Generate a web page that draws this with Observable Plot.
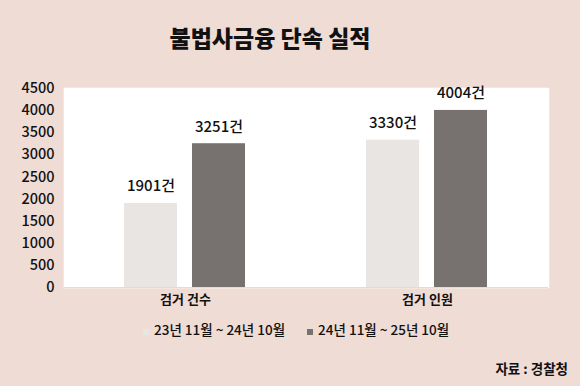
<!DOCTYPE html>
<html><head><meta charset="utf-8">
<script src="https://cdn.jsdelivr.net/npm/d3@7"></script>
<script src="https://cdn.jsdelivr.net/npm/@observablehq/plot@0.6"></script>
<style>
body{margin:0;background:#efdcd5;font-family:"Noto Sans CJK KR","Noto Sans",sans-serif;}
#wrap{position:relative;width:580px;height:386px;overflow:hidden;background:#efdcd5;color:#111}
#title{position:absolute;top:20px;left:0;width:540px;text-align:center;font-size:23px;font-weight:900;letter-spacing:0px}
#chart{position:absolute;top:70px;left:0}
#legend{position:absolute;top:319px;left:143px;font-size:13.5px;font-weight:500;display:flex;align-items:center;white-space:nowrap}
.sw{display:inline-block;width:6px;height:6px;margin-right:5px}
#source{position:absolute;top:358px;right:12px;font-size:13.5px;font-weight:700}
</style></head>
<body><div id="wrap">
<div id="title">불법사금융 단속 실적</div>
<div id="chart"></div>
<div id="legend"></div>
<div id="source">자료 : 경찰청</div>
</div>
<script>
const categories = ["검거 건수", "검거 인원"];
const periods = ["23년 11월 ~ 24년 10월", "24년 11월 ~ 25년 10월"];
const valuesPrev = [1901, 3330];
const valuesCurr = [3251, 4004];
const yTicks = [0, 500, 1000, 1500, 2000, 2500, 3000, 3500, 4000, 4500];
const colors = ["#e9e5e2", "#77716f"];

const data = [];
categories.forEach((c, i) => {
  data.push({category: c, period: periods[0], value: valuesPrev[i]});
  data.push({category: c, period: periods[1], value: valuesCurr[i]});
});

const chart = Plot.plot({
  width: 580,
  height: 245,
  marginTop: 18,
  marginBottom: 28,
  marginLeft: 63,
  marginRight: 32,
  style: {fontFamily: '"Noto Sans CJK KR", sans-serif', color: "#111", background: "transparent"},
  fx: {domain: categories, padding: 0, axis: "bottom", tickSize: 0, tickPadding: 7, label: null, fontSize: 13},
  x: {domain: periods, paddingInner: 0.22, paddingOuter: 0.87, axis: null},
  y: {domain: [0, 4500], axis: null},
  color: {domain: periods, range: colors},
  marks: [
    Plot.frame({fill: "white", stroke: "white", strokeWidth: 1.5}),
    Plot.barY(data, {fx: "category", x: "period", y: "value", fill: "period"}),
    Plot.ruleY([0], {stroke: "#dddddd"}),
    Plot.text(data, {fx: "category", x: "period", y: "value", text: d => d.value + "건", dy: -17, fontSize: 15, fontWeight: 500, fill: "#111"}),
    Plot.axisY({ticks: yTicks, tickFormat: d => String(d), tickSize: 0, tickPadding: 10, fontSize: 14.5, fontWeight: 500, label: null, facetAnchor: "left"})
  ]
});
chart.querySelectorAll('g[aria-label="fx-axis tick label"] text, g[aria-label="fx-axis tick label"]').forEach(t => { t.setAttribute("font-size", 13); t.setAttribute("font-weight", 600); });
document.getElementById("chart").appendChild(chart);

const legend = document.getElementById("legend");
periods.forEach((p, i) => {
  const item = document.createElement("span");
  item.style.marginRight = i === 0 ? "22px" : "0";
  item.innerHTML = `<span class="sw" style="background:${colors[i]}"></span>${p}`;
  legend.appendChild(item);
});
</script>
</body></html>
